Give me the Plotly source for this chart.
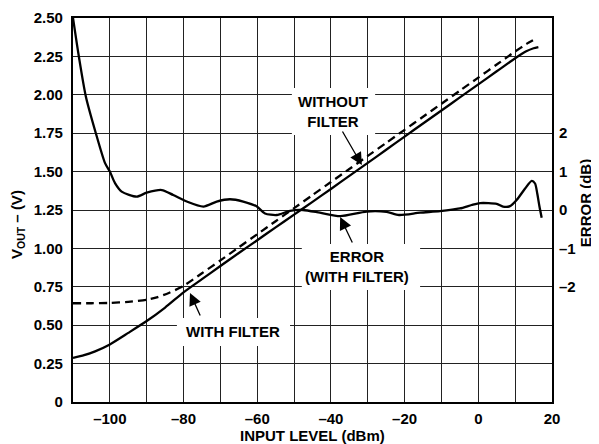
import plotly.graph_objects as go

# ---- data ----
solid_x = [-110, -107, -104, -100, -95, -90, -85, -80, -75, -70, -65, -60, -55, -50, -45, -40,
           -35, -30, -25, -20, -15, -10, -5, 0, 5, 10, 13, 15, 16.3]
solid_v = [0.287, 0.305, 0.33, 0.375, 0.45, 0.527, 0.615, 0.714, 0.80, 0.885, 0.97, 1.053, 1.137,
           1.22, 1.303, 1.387, 1.472, 1.557, 1.642, 1.728, 1.813, 1.898, 1.983, 2.068, 2.153,
           2.238, 2.283, 2.303, 2.31]

dash_x = [-110, -105, -100, -95, -90, -87, -84, -80, -75, -70, -65, -60, -55, -50, -45, -40,
          -35, -30, -25, -20, -15, -10, -5, 0, 5, 10, 13, 16]
dash_v = [0.643, 0.643, 0.645, 0.652, 0.665, 0.683, 0.71, 0.756, 0.838, 0.922, 1.007, 1.092,
          1.177, 1.262, 1.347, 1.432, 1.517, 1.602, 1.687, 1.772, 1.857, 1.942, 2.027, 2.112,
          2.197, 2.282, 2.33, 2.37]

err_x = [-110, -108.4, -106.5, -103.8, -101.3, -100, -98.6, -96.8, -92.7, -90, -85.9, -82.8,
         -79.1, -74.6, -71, -67.4, -63.8, -60.1, -57.9, -54.7, -51.1, -47.6, -43, -37.5, -30.3,
         -24.9, -21.5, -15.8, -10.4, -5, -1.8, 0.5, 5, 6.7, 8.6, 10.4, 12.7, 14.5, 15.4, 16.0,
         16.6, 17.2]
err_db = [5.0, 3.99, 2.95, 2.0, 1.22, 1.0, 0.70, 0.48, 0.35, 0.45, 0.52, 0.39, 0.22, 0.09,
          0.22, 0.28, 0.22, 0.09, -0.09, -0.13, -0.02, 0.0, -0.07, -0.16, -0.04, -0.05, -0.13,
          -0.07, -0.03, 0.04, 0.13, 0.18, 0.16, 0.09, 0.10, 0.26, 0.56, 0.76, 0.69, 0.43, 0.09,
          -0.2]

x_tick_vals = [-110, -100, -90, -80, -70, -60, -50, -40, -30, -20, -10, 0, 10, 20]
x_tick_text = ["", "–100", "", "–80", "", "–60", "", "–40", "", "–20", "", "0", "", "20"]
y_tick_vals = [0, 0.25, 0.5, 0.75, 1.0, 1.25, 1.5, 1.75, 2.0, 2.25, 2.5]
y_tick_text = ["0", "0.25", "0.50", "0.75", "1.00", "1.25", "1.50", "1.75", "2.00", "2.25", "2.50"]
err_tick_vals = [-2, -1, 0, 1, 2]
err_tick_text = ["–2", "–1", "0", "1", "2"]

FONT = "Liberation Sans, Arial, Helvetica, sans-serif"
fnt = dict(family=FONT, size=15, color="black", weight="bold")

fig = go.Figure()
fig.add_trace(go.Scatter(x=solid_x, y=solid_v, mode="lines", line=dict(color="black", width=2.3, shape="spline", smoothing=0.6),
                         showlegend=False, hoverinfo="skip"))
fig.add_trace(go.Scatter(x=dash_x, y=dash_v, mode="lines", line=dict(color="black", width=2.3, dash="8px,5px", shape="spline", smoothing=0.6),
                         showlegend=False, hoverinfo="skip"))
fig.add_trace(go.Scatter(x=err_x, y=err_db, mode="lines", yaxis="y2",
                         line=dict(color="black", width=2.3, shape="spline", smoothing=0.7),
                         showlegend=False, hoverinfo="skip"))

grid = dict(showgrid=True, gridcolor="#222222", gridwidth=1.4, zeroline=False)

# page body has an 8px margin, so the figure is reduced by 8px and margins shifted
fig.update_layout(
    width=591, height=436,
    margin=dict(l=65, r=47, t=10, b=42, autoexpand=False),
    paper_bgcolor="white", plot_bgcolor="white",
    font=fnt,
    xaxis=dict(range=[-110, 20], tickvals=x_tick_vals, ticktext=x_tick_text, ticks="",
               showline=True, linecolor="black", linewidth=2.2, mirror=True,
               tickfont=fnt, ticklabelstandoff=2, **grid),
    yaxis=dict(range=[0, 2.5], tickvals=y_tick_vals, ticktext=y_tick_text, ticks="",
               showline=True, linecolor="black", linewidth=2.2, mirror=True,
               tickfont=fnt, ticklabelstandoff=5, **grid),
    yaxis2=dict(range=[-5, 5], overlaying="y", side="right", tickvals=err_tick_vals,
                ticktext=err_tick_text, ticks="", showgrid=False, zeroline=False,
                showline=False, tickfont=fnt, ticklabelstandoff=6),
)

# white label boxes covering gridlines
boxes = [(-50.6, -28.0, 1.738, 2.044), (-47.9, -15.8, 0.729, 1.029), (-81.8, -51.1, 0.365, 0.547)]
for x0, x1, y0, y1 in boxes:
    fig.add_shape(type="rect", xref="x", yref="y", x0=x0, x1=x1, y0=y0, y1=y1,
                  fillcolor="white", line=dict(width=0), layer="between")

labels = [("WITHOUT<br>FILTER", -39.4, 1.894), ("ERROR<br>(WITH FILTER)", -32.9, 0.879),
          ("WITH FILTER", -66.6, 0.456)]
for t, x, y in labels:
    fig.add_annotation(text=t, x=x, y=y, xref="x", yref="y", showarrow=False, font=fnt,
                       xanchor="center", yanchor="middle")

arrows = [(-31.6, 1.543, -37.1, 1.771), (-37.5, 1.204, -34.0, 1.029), (-78.25, 0.71, -75.3, 0.553)]
for hx, hy, tx, ty in arrows:
    fig.add_annotation(text="", x=hx, y=hy, ax=tx, ay=ty, xref="x", yref="y", axref="x", ayref="y",
                       showarrow=True, arrowhead=2, arrowsize=1.9, arrowwidth=1.3, arrowcolor="black")

# axis titles
fig.add_annotation(text="V<sub>OUT</sub> – (V)", xref="paper", yref="paper", x=-0.1148, y=0.461,
                   textangle=-90, showarrow=False, font=fnt, xanchor="center", yanchor="middle")
fig.add_annotation(text="ERROR (dB)", xref="paper", yref="paper", x=1.069, y=0.518,
                   textangle=-90, showarrow=False, font=fnt, xanchor="center", yanchor="middle")
fig.add_annotation(text="INPUT LEVEL (dBm)", xref="paper", yref="paper", x=0.499, y=-0.0885,
                   showarrow=False, font=fnt, xanchor="center", yanchor="middle")

fig.write_html("out.html")
